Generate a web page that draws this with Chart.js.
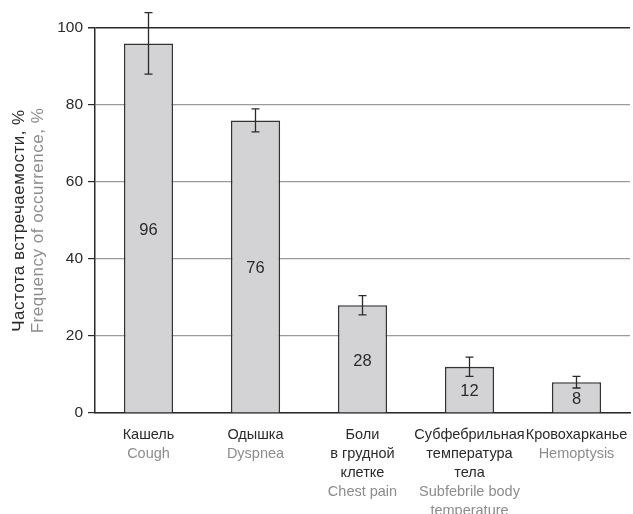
<!DOCTYPE html>
<html>
<head>
<meta charset="utf-8">
<script src="https://cdn.jsdelivr.net/npm/chart.js@4/dist/chart.umd.min.js"></script>
<style>
  html, body { margin: 0; padding: 0; background: #fff; }
  #wrap { width: 633px; height: 514px; }
</style>
</head>
<body>
<div id="wrap"><canvas id="c" width="633" height="514"></canvas></div>
<script>
// Symptom frequencies (%) with their spread
const categories = ['Кашель', 'Одышка', 'Боли в грудной клетке', 'Субфебрильная температура тела', 'Кровохарканье'];
const ruLines = [['Кашель'], ['Одышка'], ['Боли', 'в грудной', 'клетке'], ['Субфебрильная', 'температура', 'тела'], ['Кровохарканье']];
const enLines = [['Cough'], ['Dyspnea'], ['Chest pain'], ['Subfebrile body', 'temperature'], ['Hemoptysis']];
const values = [96, 76, 28, 12, 8];
const errors = [8, 3, 2.5, 2.5, 1.5];
const yTicks = [0, 20, 40, 60, 80, 100];
const yTitleRu = 'Частота встречаемости, %';
const yTitleEn = 'Frequency of occurrence, %';

const FONT = '"Liberation Sans", Arial, sans-serif';
const DARK = '#2a2a2a';
const GREY_TXT = '#8c8c8c';

// Error whiskers, value labels, bilingual category labels and axis title
const extras = {
  id: 'extras',
  afterDatasetsDraw(chart) {
    const { ctx, scales: { x, y } } = chart;
    const meta = chart.getDatasetMeta(0);
    ctx.save();
    ctx.strokeStyle = DARK;
    ctx.lineWidth = 1.3;
    values.forEach((v, i) => {
      const cx = meta.data[i].x;
      const yTop = y.getPixelForValue(v + errors[i]);
      const yBot = y.getPixelForValue(v - errors[i]);
      ctx.beginPath();
      ctx.moveTo(cx, yTop); ctx.lineTo(cx, yBot);
      ctx.moveTo(cx - 4, yTop); ctx.lineTo(cx + 4, yTop);
      ctx.moveTo(cx - 4, yBot); ctx.lineTo(cx + 4, yBot);
      ctx.stroke();
    });
    // value labels in the middle of each bar
    ctx.fillStyle = DARK;
    ctx.font = '16.5px ' + FONT;
    ctx.textAlign = 'center';
    ctx.textBaseline = 'middle';
    values.forEach((v, i) => {
      const cx = meta.data[i].x;
      const cy = (y.getPixelForValue(v) + y.getPixelForValue(0)) / 2 + 2;
      ctx.fillText(String(v), cx, cy);
    });
    ctx.restore();
  },
  afterDraw(chart) {
    const { ctx, scales: { x, y } } = chart;
    ctx.save();
    ctx.font = '14.5px ' + FONT;
    ctx.textAlign = 'center';
    ctx.textBaseline = 'middle';
    const lh = 19;
    categories.forEach((c, i) => {
      const cx = x.getPixelForValue(i);
      let ly = y.getPixelForValue(0) + 22;
      ctx.fillStyle = DARK;
      ruLines[i].forEach(t => { ctx.fillText(t, cx, ly); ly += lh; });
      ctx.fillStyle = GREY_TXT;
      enLines[i].forEach(t => { ctx.fillText(t, cx, ly); ly += lh; });
    });
    // rotated two-line axis title
    const midY = (chart.chartArea.top + chart.chartArea.bottom) / 2;
    ctx.font = '17px ' + FONT;
    ctx.letterSpacing = '0.5px';
    ctx.translate(19, midY);
    ctx.rotate(-Math.PI / 2);
    ctx.fillStyle = DARK;
    ctx.fillText(yTitleRu, 0, 0);
    ctx.fillStyle = GREY_TXT;
    ctx.fillText(yTitleEn, 0, 19);
    ctx.restore();
  }
};

new Chart(document.getElementById('c'), {
  type: 'bar',
  data: {
    labels: categories,
    datasets: [{
      data: values,
      backgroundColor: '#d3d3d5',
      borderColor: '#333333',
      borderWidth: 1.6,
      borderSkipped: 'bottom',
      barPercentage: 0.92,
      categoryPercentage: 0.5
    }]
  },
  options: {
    responsive: false,
    animation: false,
    devicePixelRatio: 1,
    layout: { padding: { left: 0, top: 28, right: 3, bottom: 0 } },
    plugins: { legend: { display: false }, tooltip: { enabled: false } },
    scales: {
      x: {
        grid: { display: false, drawTicks: false },
        border: { display: true, color: DARK, width: 1.5 },
        ticks: { display: false },
        afterFit(s) { s.height = 101; }
      },
      y: {
        min: 0, max: 100,
        afterBuildTicks(s) { s.ticks = yTicks.map(v => ({ value: v })); },
        grid: {
          color: ctx => (ctx.tick && ctx.tick.value === 100) ? DARK : '#9a9a9a',
          lineWidth: ctx => (ctx.tick && ctx.tick.value === 100) ? 1.5 : 1.2,
          tickColor: DARK,
          tickLength: 7
        },
        border: { display: true, color: DARK, width: 1.5 },
        ticks: {
          color: DARK,
          font: { family: FONT, size: 15.5 },
          padding: 5
        },
        afterFit(s) { s.width = 95; }
      }
    }
  },
  plugins: [extras]
});
</script>
</body>
</html>
